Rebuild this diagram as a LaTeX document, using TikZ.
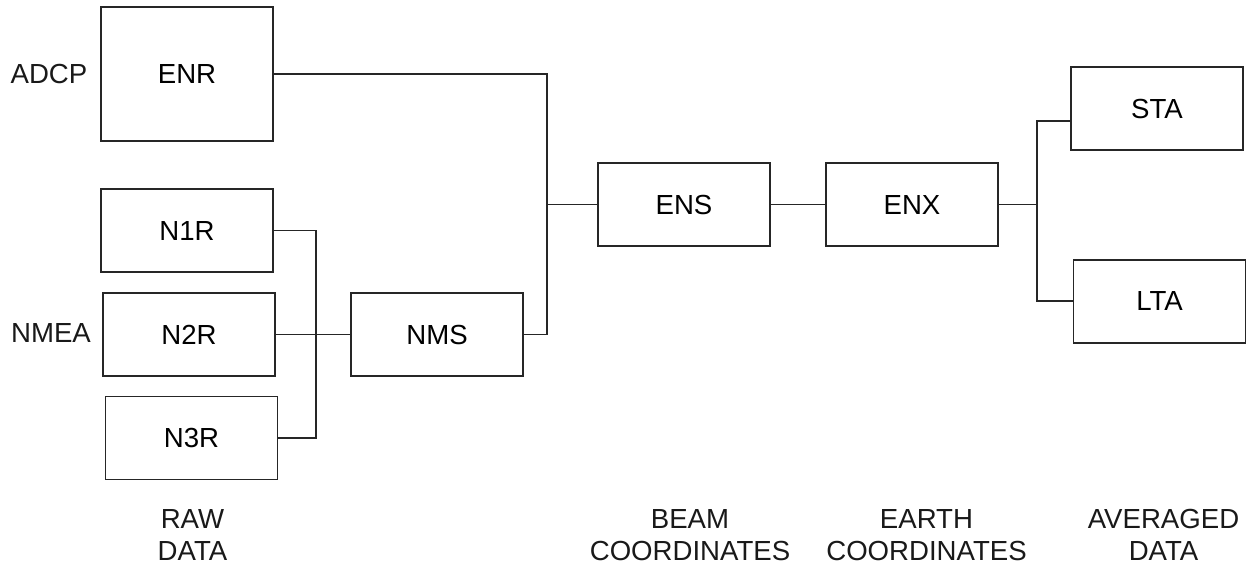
\documentclass[tikz,border=0pt]{standalone}
\usepackage{fontspec}
\setmainfont{Liberation Sans}
\usetikzlibrary{positioning}

\begin{document}
\begin{tikzpicture}[x=0.5pt,y=-0.5pt,line width=0.85pt,draw=black!85,
    blk/.style={draw,minimum width=86pt,minimum height=41.5pt,inner sep=0pt,
                font=\fontsize{13.8}{16}\selectfont},
    lbl/.style={align=center,text=black!90,font=\fontsize{13.8}{16}\selectfont}]
    \useasboundingbox (0,0) rectangle (1251,569);

    % raw data
    \node[blk,minimum height=67pt] (enr) at (187,74)    {ENR};
    \node[blk]                     (n1r) at (187,230.5) {N1R};
    \node[blk]                     (n2r) at (189,334.5) {N2R};
    \node[blk]                     (n3r) at (191.5,438) {N3R};
    \node[blk]                     (nms) at (437,334.5) {NMS};
    % processed data
    \node[blk] (ens) at (684,204.5) {ENS};
    \node[blk] (enx) at (912,204.5) {ENX};
    \node[blk] (sta) at (1157,108.7) {STA};
    \node[blk] (lta) at (1159.5,301.3) {LTA};

    \node[lbl] (adcp) at (49,74)  {ADCP};
    \node[lbl] (nmea) at (51,333) {NMEA};

    \node[lbl] (raw)   at (192.5,535) {RAW\\DATA};
    \node[lbl] (beam)  at (690,535)   {BEAM\\COORDINATES};
    \node[lbl] (earth) at (926.5,535) {EARTH\\COORDINATES};
    \node[lbl] (avg)   at (1163.5,535) {AVERAGED\\DATA};

    \coordinate (j1) at (547,204.5);
    \coordinate (j2) at (316,334.5);
    \coordinate (j3) at (1037,204.5);

    \draw (enr.east) -| (j1) |- (nms.east);
    \draw (j1) -- (ens.west);
    \draw (n1r.east) -| (j2) |- (n3r.east);
    \draw (n2r.east) -- (nms.west);
    \draw (ens.east) -- (enx.west);
    \draw (enx.east) -- (j3);
    \draw ([yshift=-6.2pt]sta.west) -| (j3) |- (lta.west);
\end{tikzpicture}
\end{document}
